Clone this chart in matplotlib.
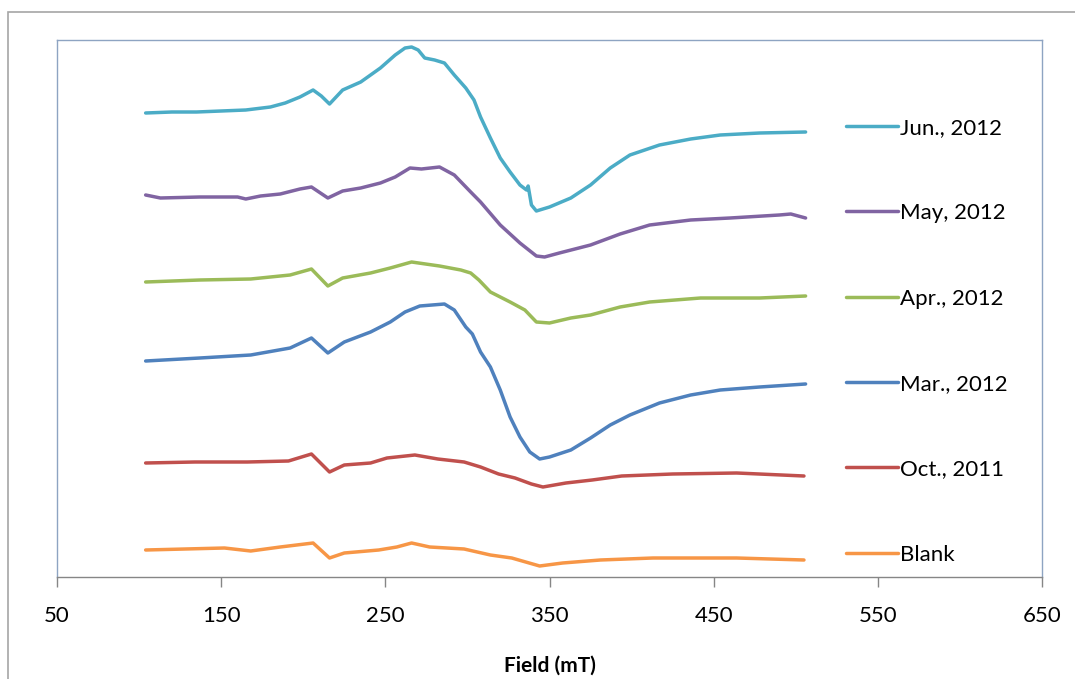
"""EPR spectra of the samples, offset stack in Excel style."""
import matplotlib

matplotlib.use("Agg")

import matplotlib.pyplot as plt
from matplotlib.patches import Rectangle

plt.rcParams["font.family"] = ["Lato", "DejaVu Sans"]

# field (mT) and intensity (a.u., curves already offset)
jun_field = [104, 120, 135, 150, 165, 180, 189, 198, 206, 211, 216, 224, 235, 247, 256, 262,
             266, 270, 274, 280, 286, 292, 299, 304, 308, 314, 320, 326, 332, 336, 337, 339,
             342, 350, 363, 375, 387, 399, 417, 436, 454, 478, 506]
jun_value = [464, 465, 465, 466, 467, 470, 474, 480, 487, 481, 473, 487, 495, 509, 522, 529,
             530, 527, 519, 517, 514, 502, 489, 477, 460, 439, 419, 405, 392, 387, 391, 372,
             366, 370, 379, 392, 409, 422, 432, 438, 442, 444, 445]

may_field = [104, 113, 137, 160, 165, 174, 186, 198, 205, 215, 224, 235, 247, 256, 265, 272,
             283, 292, 302, 308, 320, 332, 342, 347, 356, 375, 393, 411, 436, 460, 490, 497, 506]
may_value = [382, 379, 380, 380, 378, 381, 383, 388, 390, 379, 386, 389, 394, 400, 409, 408,
             410, 402, 385, 375, 352, 334, 321, 320, 324, 332, 343, 352, 357, 359, 362, 363, 359]

apr_field = [104, 137, 168, 192, 205, 215, 224, 241, 253, 266, 283, 296, 302, 307, 314, 326,
             335, 342, 350, 363, 375, 393, 411, 442, 478, 506]
apr_value = [295, 297, 298, 302, 308, 291, 299, 304, 309, 315, 311, 307, 304, 297, 285, 275,
             267, 255, 254, 259, 262, 270, 275, 279, 279, 281]

mar_field = [104, 137, 168, 192, 205, 215, 225, 241, 253, 262, 271, 286, 292, 299, 303, 308,
             314, 320, 326, 332, 338, 344, 350, 363, 375, 387, 399, 417, 436, 454, 478, 506]
mar_value = [216, 219, 222, 229, 239, 224, 235, 245, 255, 265, 271, 273, 267, 250, 243, 225,
             210, 187, 160, 140, 125, 118, 120, 127, 139, 152, 162, 174, 182, 187, 190, 193]

oct_field = [104, 134, 166, 191, 205, 216, 225, 241, 251, 268, 282, 298, 308, 319, 329, 339,
             346, 360, 376, 394, 425, 464, 505]
oct_value = [114, 115, 115, 116, 123, 105, 112, 114, 119, 122, 118, 115, 110, 103, 99, 93,
             90, 94, 97, 101, 103, 104, 101]

blank_field = [104, 152, 168, 186, 206, 216, 225, 246, 257, 266, 277, 298, 314, 327, 344, 358,
               381, 413, 464, 505]
blank_value = [27, 29, 26, 30, 34, 19, 24, 27, 30, 34, 30, 28, 22, 19, 11, 14, 17, 19, 19, 17]

labels = ["Jun., 2012", "May, 2012", "Apr., 2012", "Mar., 2012", "Oct., 2011", "Blank"]
colors = ["#4BACC6", "#8064A2", "#9BBB59", "#4F81BD", "#C0504D", "#F79646"]
x_ticks = [50, 150, 250, 350, 450, 550, 650]

series = [
    (jun_field, jun_value),
    (may_field, may_value),
    (apr_field, apr_value),
    (mar_field, mar_value),
    (oct_field, oct_value),
    (blank_field, blank_value),
]

fig = plt.figure(figsize=(10.75, 6.79), dpi=100)
fig.patch.set_facecolor("white")

# outer chart frame (runs off the right and bottom edge in the original)
fig.add_artist(Rectangle((8 / 1075, -0.2), 1.2, 1.2 - 12 / 679,
                         transform=fig.transFigure, fill=False,
                         edgecolor="#A6A6A6", linewidth=1.2))

ax = fig.add_axes([57 / 1075, 1 - 577 / 679, 985 / 1075, 537 / 679])

for (field, value), label, color in zip(series, labels, colors):
    ax.plot(field, value, color=color, linewidth=2.5, label=label,
            solid_joinstyle="round", solid_capstyle="round")

ax.set_xlim(50, 650)
ax.set_ylim(0, 537)
ax.set_xticks(x_ticks)
ax.set_yticks([])
ax.tick_params(axis="x", direction="out", length=7, width=1, color="#868686",
               labelsize=16, pad=14, labelcolor="black")

for side in ["top", "left", "right"]:
    ax.spines[side].set_color("#8EA4C2")
    ax.spines[side].set_linewidth(1)
ax.spines["bottom"].set_color("#868686")
ax.spines["bottom"].set_linewidth(1)

ax.set_xlabel("Field (mT)", fontsize=15, fontweight="bold", labelpad=21)

ax.legend(loc="upper left", bbox_to_anchor=(0.801, 0.855), frameon=False,
          fontsize=16, handlelength=2.35, handletextpad=0.1, labelspacing=2.94,
          borderpad=0, borderaxespad=0)

fig.savefig("out.png", dpi=100, facecolor="white")
